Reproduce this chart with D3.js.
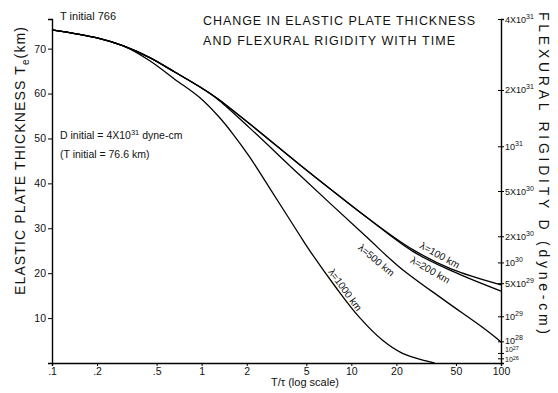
<!DOCTYPE html>
<html><head><meta charset="utf-8">
<script src="https://cdn.jsdelivr.net/npm/d3@7"></script>
<style>
body{margin:0;background:#fff;}
svg{display:block;font-family:"Liberation Sans",Arial,sans-serif;}
</style></head>
<body><svg id="c" width="558" height="393"></svg>
<script>
// ---- data ----
const xTicks = [0.1,0.2,0.5,1,2,5,10,20,50,100];
const xTickLabels = [".1",".2",".5","1","2","5","10","20","50","100"];
const yTicks = [10,20,30,40,50,60,70];
const dTicks = [4e31,2e31,1e31,5e30,2e30,1e30,5e29,1e29,1e28,1e27,1e26];
const dTickMant = ["4X","2X","","5X","2X","","5X","","","",""];
const dTickExp = ["31","31","31","30","30","30","29","29","28","27","26"];
const T_INITIAL = 76.6, D_INITIAL = 4e31;

const l100_t = [0.1,0.2,0.3,0.45,0.66,0.97,1.26,2.1,4.5,7.2,12.6,25.6,46.8,100];
const l100_T = [74.2,72.4,70.6,68.0,64.8,61.5,59.0,53.2,44.2,38.8,32.5,25.3,20.9,17.4];
const l200_t = [0.1,0.2,0.3,0.45,0.66,0.97,1.26,2.1,4.5,7.2,12.6,25.6,46.8,100];
const l200_T = [74.2,72.4,70.6,68.0,64.8,61.5,59.0,53.2,44.2,38.8,32.5,24.9,20.5,16.0];
const l500_t = [0.1,0.2,0.3,0.45,0.66,0.97,1.26,2.1,4.5,12.6,20.9,41.7,74.8,100];
const l500_T = [74.2,72.4,70.6,68.0,64.8,61.5,58.9,52.3,41.9,28.1,21.4,14.0,8.0,4.7];
const l1000_t = [0.1,0.2,0.3,0.45,0.66,0.97,1.32,1.6,2.09,2.84,4.51,5.23,7.94,11.3,16.1,21.8,31.6,36];
const l1000_T = [74.2,72.4,70.6,67.3,63.2,59.1,54.6,51.2,45.9,39.0,28.5,25.2,16.7,10.2,5.1,2.2,0.45,0];

const seriesNames = ["λ=100 km","λ=200 km","λ=500 km","λ=1000 km"];
const labelT = [39,33.7,14.7,9.1];
const labelV = [24.0,20.7,22.9,16.3];
const labelAngle = [29,30,40,54];

// ---- drawing ----
const svg = d3.select("#c");
svg.append("rect").attr("width",558).attr("height",393).attr("fill","#fff");
const x = d3.scaleLog().domain([0.1,100]).range([52,501]);
const y = d3.scaleLinear().domain([0,T_INITIAL]).range([363,19]);
const yD = d3.scalePow().exponent(1/3).domain([0,D_INITIAL]).range([363,19]);

// axes
const gx = svg.append("g").attr("transform","translate(0,363)")
  .call(d3.axisBottom(x).tickValues(xTicks).tickSize(3).tickPadding(2)
        .tickFormat((d,i)=>xTickLabels[i]));
const gy = svg.append("g").attr("transform","translate(52,0)")
  .call(d3.axisLeft(y).tickValues(yTicks).tickSize(4).tickPadding(2));
const gd = svg.append("g").attr("transform","translate(501,0)")
  .call(d3.axisRight(yD).tickValues(dTicks).tickSize(3).tickFormat(""));
gd.selectAll(".tick line").attr("x1",-3);
[gx,gy,gd].forEach(g=>{
  g.select(".domain").attr("stroke","#000").attr("stroke-width",1.4);
  g.selectAll(".tick line").attr("stroke","#000").attr("stroke-width",1);
  g.selectAll("text").attr("font-family","Liberation Sans, Arial, sans-serif").attr("fill","#111");
});
gx.selectAll("text").attr("font-size",10.5);
gy.selectAll("text").attr("font-size",10.5);

// right axis labels with superscripts
const dLabelShift = [0,0,0,0,0,0,0,0,-1,-4,0];
dTicks.forEach((d,i)=>{
  const small = d <= 1e27;
  const t = svg.append("text").attr("x",505).attr("y",yD(d)+3.5+dLabelShift[i])
    .attr("font-size", small?7:9).attr("fill","#111");
  t.append("tspan").text(dTickMant[i]+"10");
  t.append("tspan").attr("dy", small?-2:-4).attr("font-size", small?5.5:7).text(dTickExp[i]);
});

// curves
const line = d3.line().x(d=>x(d[0])).y(d=>y(d[1])).curve(d3.curveCatmullRom.alpha(0.5));
const series = [[l100_t,l100_T],[l200_t,l200_T],[l500_t,l500_T],[l1000_t,l1000_T]];
series.forEach(([ts,Ts])=>{
  svg.append("path").datum(ts.map((t,i)=>[t,Ts[i]]))
    .attr("d",line).attr("fill","none").attr("stroke","#000").attr("stroke-width",1.3);
});
seriesNames.forEach((n,i)=>{
  svg.append("text").attr("transform",`translate(${x(labelT[i])},${y(labelV[i])}) rotate(${labelAngle[i]})`)
    .attr("text-anchor","middle").attr("dy","0.35em").attr("font-size",10).attr("fill","#111").text(n);
});

// texts
svg.append("text").attr("x",60).attr("y",20).attr("font-size",11).attr("fill","#111").text("T initial 766");
const t1 = svg.append("text").attr("x",60).attr("y",139).attr("font-size",10.5).attr("fill","#111");
t1.append("tspan").text("D initial = 4X10");
t1.append("tspan").attr("dy",-4).attr("font-size",7.5).text("31");
t1.append("tspan").attr("dy",4).text(" dyne-cm");
svg.append("text").attr("x",60).attr("y",158).attr("font-size",10.5).attr("fill","#111").text("(T initial = 76.6 km)");

svg.append("text").attr("x",203).attr("y",25).attr("font-size",12.5).attr("fill","#111")
  .attr("textLength",272).attr("lengthAdjust","spacing").text("CHANGE IN ELASTIC PLATE THICKNESS");
svg.append("text").attr("x",203).attr("y",45).attr("font-size",12.5).attr("fill","#111")
  .attr("textLength",252).attr("lengthAdjust","spacing").text("AND FLEXURAL RIGIDITY WITH TIME");

const yl = svg.append("text").attr("transform","translate(25,295) rotate(-90)")
  .attr("font-size",14).attr("fill","#111").attr("textLength",268).attr("lengthAdjust","spacing");
yl.append("tspan").text("ELASTIC PLATE THICKNESS T");
yl.append("tspan").attr("dy",4).attr("font-size",10).text("e");
yl.append("tspan").attr("dy",-4).text("(km)");

svg.append("text").attr("transform","translate(539,12) rotate(90)")
  .attr("font-size",14).attr("fill","#111")
  .attr("textLength",322).attr("lengthAdjust","spacing").text("FLEXURAL RIGIDITY D (dyne-cm)");

svg.append("text").attr("x",305).attr("y",386).attr("text-anchor","middle")
  .attr("font-size",11).attr("fill","#111").text("T/τ (log scale)");
</script></body></html>
